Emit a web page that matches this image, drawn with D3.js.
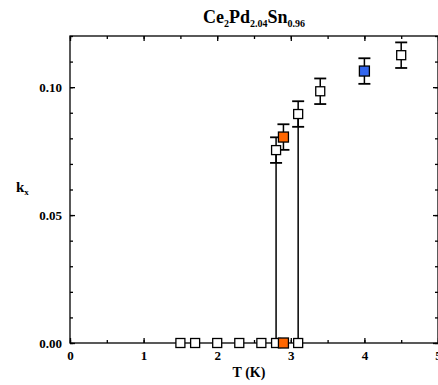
<!DOCTYPE html>
<html>
<head>
<meta charset="utf-8">
<script src="https://cdn.jsdelivr.net/npm/d3@7"></script>
<style>
  body { margin: 0; background: #fff; }
  svg { display: block; }
  .axis text { font-family: "Liberation Serif", "Times New Roman", serif; font-weight: bold; font-size: 13px; fill: #000; }
  .axis path, .axis line { stroke: #000; stroke-width: 1.3px; }
  .lbl { font-family: "Liberation Serif", "Times New Roman", serif; font-weight: bold; fill: #000; }
</style>
</head>
<body>
<div id="chart"></div>
<script>
// data
const xTicks = [0, 1, 2, 3, 4, 5];
const yTicks = [0.00, 0.05, 0.10];

// points at zero (normal state)
const zeroT = [1.5, 1.7, 2.0, 2.3, 2.6, 2.8, 3.1];
// points above transition
const upT = [2.8, 3.1, 3.4, 4.5];
const upK = [0.0754, 0.0895, 0.0984, 0.1125];
const upErr = [0.005, 0.005, 0.005, 0.005];
// highlighted points
const orangeT = [2.9, 2.9];
const orangeK = [0.0, 0.0805];
const orangeErr = [0, 0.005];
const blueT = [4.0];
const blueK = [0.1063];
const blueErr = [0.005];
// vertical connectors
const dropT = [2.8, 3.1];
const dropK = [0.0754, 0.0895];

const W = 438, H = 385;
const margin = {top: 36, right: 0, bottom: 42, left: 70};
const width = W - margin.left - margin.right;
const height = H - margin.top - margin.bottom;

const x = d3.scaleLinear().domain([0, 5]).range([0, width]);
const y = d3.scaleLinear().domain([0, 0.12]).range([height, 0]);

const svg = d3.select('#chart').append('svg')
    .attr('width', W)
    .attr('height', H)
    .append('g')
    .attr('transform', 'translate(' + margin.left + ',' + margin.top + ')');

// ... frame
svg.append('rect')
    .attr('x', 0).attr('y', 0)
    .attr('width', width).attr('height', height)
    .attr('fill', 'none').attr('stroke', '#000').attr('stroke-width', 1.3);

const xMinor = d3.range(0, 5.01, 0.5);
const yMinor = d3.range(0, 0.1201, 0.01);

// ... axes, ticks inward
svg.append('g').attr('class', 'x axis')
    .attr('transform', 'translate(0,' + height + ')')
    .call(d3.axisBottom(x).tickValues(xTicks).tickSize(-5).tickPadding(8).tickFormat(d3.format('d')));
svg.append('g').attr('class', 'x axis')
    .attr('transform', 'translate(0,' + height + ')')
    .call(d3.axisBottom(x).tickValues(xMinor).tickSize(-3).tickFormat(''));
svg.append('g').attr('class', 'x axis')
    .call(d3.axisTop(x).tickValues(xTicks).tickSize(-5).tickFormat(''));
svg.append('g').attr('class', 'x axis')
    .call(d3.axisTop(x).tickValues(xMinor).tickSize(-3).tickFormat(''));

svg.append('g').attr('class', 'y axis')
    .call(d3.axisLeft(y).tickValues(yTicks).tickSize(-5).tickPadding(8).tickFormat(d3.format('.2f')));
svg.append('g').attr('class', 'y axis')
    .call(d3.axisLeft(y).tickValues(yMinor).tickSize(-3).tickFormat(''));
svg.append('g').attr('class', 'y axis')
    .attr('transform', 'translate(' + width + ',0)')
    .call(d3.axisRight(y).tickValues(yTicks).tickSize(-5).tickFormat(''));
svg.append('g').attr('class', 'y axis')
    .attr('transform', 'translate(' + width + ',0)')
    .call(d3.axisRight(y).tickValues(yMinor).tickSize(-3).tickFormat(''));

svg.selectAll('.axis .domain').remove();

// ... vertical connectors
svg.selectAll('.drop')
    .data(dropT)
    .enter().append('line')
    .attr('x1', d => x(d)).attr('x2', d => x(d))
    .attr('y1', y(0)).attr('y2', (d, i) => y(dropK[i]))
    .attr('stroke', '#000').attr('stroke-width', 1.5);

function errorBars(ts, ks, es) {
    const g = svg.append('g');
    ts.forEach((t, i) => {
        if (!es[i]) return;
        const cx = x(t);
        g.append('line').attr('x1', cx).attr('x2', cx)
            .attr('y1', y(ks[i] - es[i])).attr('y2', y(ks[i] + es[i]))
            .attr('stroke', '#000').attr('stroke-width', 1.5);
        [ks[i] - es[i], ks[i] + es[i]].forEach(v => {
            g.append('line').attr('x1', cx - 6).attr('x2', cx + 6)
                .attr('y1', y(v)).attr('y2', y(v))
                .attr('stroke', '#000').attr('stroke-width', 1.8);
        });
    });
}

function squares(ts, ks, fill, s) {
    svg.append('g').selectAll('rect')
        .data(ts)
        .enter().append('rect')
        .attr('x', d => x(d) - s / 2)
        .attr('y', (d, i) => y(ks[i]) - s / 2)
        .attr('width', s).attr('height', s)
        .attr('fill', fill)
        .attr('stroke', '#000').attr('stroke-width', 1.3);
}

errorBars(upT, upK, upErr);
errorBars(orangeT, orangeK, orangeErr);
errorBars(blueT, blueK, blueErr);

squares(zeroT, zeroT.map(() => 0), '#fff', 9);
squares(upT, upK, '#fff', 9);
squares(orangeT, orangeK, '#ff6600', 10);
squares(blueT, blueK, '#3366ee', 10);

// ... labels
const root = d3.select('#chart svg');
const title = root.append('text')
    .attr('class', 'lbl')
    .attr('x', margin.left + width / 2)
    .attr('y', 23)
    .attr('text-anchor', 'middle')
    .style('font-size', '18px');
let low = false;
[['Ce', 0], ['2', 1], ['Pd', 0], ['2.04', 1], ['Sn', 0], ['0.96', 1]].forEach(p => {
    const sub = p[1] === 1;
    const dy = sub && !low ? 4 : (!sub && low ? -4 : null);
    low = sub;
    title.append('tspan')
        .attr('dy', dy)
        .style('font-size', sub ? '10px' : null)
        .text(p[0]);
});

root.append('text')
    .attr('class', 'lbl')
    .attr('x', margin.left + width / 2 - 5)
    .attr('y', 377)
    .attr('text-anchor', 'middle')
    .style('font-size', '14px')
    .text('T (K)');

const yl = root.append('text')
    .attr('class', 'lbl')
    .attr('x', 16)
    .attr('y', 192)
    .style('font-size', '15px');
yl.append('tspan').text('k');
yl.append('tspan').attr('dy', 3).style('font-size', '9px').text('x');
</script>
</body>
</html>
